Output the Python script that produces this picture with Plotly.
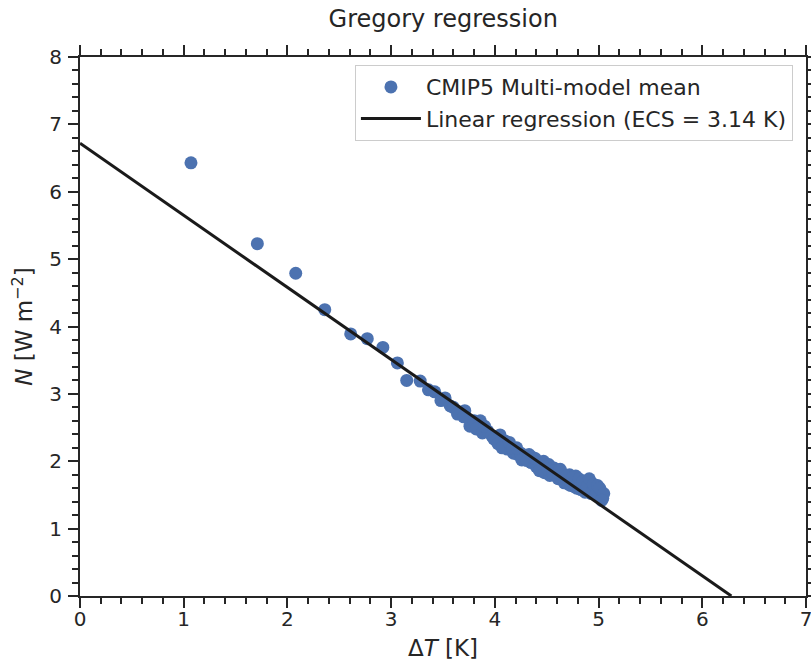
import plotly.graph_objects as go

# ---- data ----
delta_t = [1.07, 1.71, 2.08, 2.36, 2.61, 2.77, 2.92, 3.06, 3.15, 3.28, 3.36, 3.42,
           3.52, 3.48, 3.57, 3.60, 3.66, 3.71, 3.64, 3.76, 3.70, 3.80, 3.86, 3.82,
           3.88, 3.93, 3.90, 3.97, 4.02, 3.99, 4.05, 4.08, 4.03, 4.10, 4.12, 4.07,
           4.15, 4.18, 4.14, 4.20, 4.22, 4.17, 4.25, 4.28, 4.21, 4.30, 4.26, 4.33,
           4.35, 4.31, 4.38, 4.40, 4.36, 4.42, 4.45, 4.39, 4.47, 4.43, 4.50, 4.48,
           4.52, 4.46, 4.55, 4.53, 4.57, 4.51, 4.60, 4.58, 4.62, 4.56, 4.64, 4.61,
           4.66, 4.68, 4.63, 4.70, 4.67, 4.72, 4.69, 4.74, 4.71, 4.76, 4.73, 4.78,
           4.75, 4.80, 4.77, 4.82, 4.79, 4.84, 4.81, 4.86, 4.83, 4.88, 4.85, 4.90,
           4.87, 4.92, 4.89, 4.94, 4.91, 4.96, 4.93, 4.98, 4.95, 5.00, 4.97, 5.02,
           4.99, 5.04, 5.01, 5.05, 5.03]
toa_n = [6.43, 5.23, 4.79, 4.25, 3.89, 3.82, 3.69, 3.46, 3.20, 3.19, 3.06, 3.03,
         2.94, 2.90, 2.82, 2.80, 2.73, 2.75, 2.70, 2.52, 2.66, 2.60, 2.60, 2.48,
         2.42, 2.45, 2.52, 2.38, 2.30, 2.33, 2.39, 2.25, 2.26, 2.30, 2.18, 2.20,
         2.22, 2.12, 2.28, 2.16, 2.10, 2.19, 2.12, 2.05, 2.20, 2.08, 2.02, 2.10,
         1.98, 2.01, 2.02, 1.92, 2.06, 1.98, 1.90, 2.04, 2.00, 1.86, 1.92, 1.83,
         1.95, 1.96, 1.85, 1.79, 1.90, 1.88, 1.80, 1.86, 1.76, 1.82, 1.84, 1.74,
         1.80, 1.72, 1.88, 1.76, 1.68, 1.80, 1.78, 1.70, 1.66, 1.74, 1.64, 1.78,
         1.76, 1.66, 1.62, 1.72, 1.60, 1.64, 1.74, 1.62, 1.58, 1.68, 1.70, 1.58,
         1.54, 1.70, 1.62, 1.56, 1.74, 1.62, 1.52, 1.58, 1.66, 1.48, 1.50, 1.56,
         1.64, 1.45, 1.60, 1.52, 1.42]

# regression parameters (forcing intercept and feedback slope)
reg_intercept = 6.72
reg_slope = -1.07
ecs_value = 3.14

x_ticks = [0, 1, 2, 3, 4, 5, 6, 7]
y_ticks = [0, 1, 2, 3, 4, 5, 6, 7, 8]

x_zero = -reg_intercept / reg_slope
line_x = [0, x_zero]
line_y = [reg_intercept + reg_slope * v for v in line_x]

dark = "#262626"
font_family = "DejaVu Sans, sans-serif"

fig = go.Figure()
fig.add_trace(go.Scatter(
    x=delta_t, y=toa_n, mode="markers",
    marker=dict(color="#4C72B0", size=13, line=dict(width=0)),
    name="CMIP5 Multi-model mean",
))
fig.add_trace(go.Scatter(
    x=line_x, y=line_y, mode="lines",
    line=dict(color="#1a1a1a", width=3),
    name=f"Linear regression (ECS = {ecs_value:.2f} K)",
))

axis_common = dict(
    showgrid=False, zeroline=False, automargin=False,
    showline=True, linecolor=dark, linewidth=2,
    mirror="allticks", ticks="outside", ticklen=10, tickwidth=2, tickcolor=dark,
    tickfont=dict(family=font_family, size=20, color=dark),
    ticklabeloverflow="allow",
    minor=dict(ticks="outside", ticklen=6, tickwidth=1.5, tickcolor=dark, dtick=0.2),
)

fig.update_layout(
    width=811, height=669,
    margin=dict(l=80, r=5, t=57, b=73, autoexpand=False),
    paper_bgcolor="white", plot_bgcolor="white",
    font=dict(family=font_family, color=dark),
    title=dict(text="Gregory regression", x=0.5465, xanchor="center",
               y=0.985, yanchor="top",
               font=dict(family=font_family, size=24, color=dark)),
    xaxis=dict(range=[0, 7], tickvals=x_ticks, ticklabelstandoff=-6,
               title=dict(text="Δ<i>T</i> [K]", standoff=10,
                          font=dict(family=font_family, size=23, color=dark)),
               **axis_common),
    yaxis=dict(range=[0, 8], tickvals=y_ticks, ticklabelstandoff=2,
               title=dict(text="<i>N</i> [W m<sup>−2</sup>]", standoff=10,
                          font=dict(family=font_family, size=23, color=dark)),
               **axis_common),
    legend=dict(x=0.982, xanchor="right", y=0.985, yanchor="top",
                bgcolor="rgba(255,255,255,0.8)", bordercolor="#cccccc", borderwidth=1,
                font=dict(family=font_family, size=22, color=dark),
                itemwidth=60),
    showlegend=True,
)

fig.write_html("out.html")
